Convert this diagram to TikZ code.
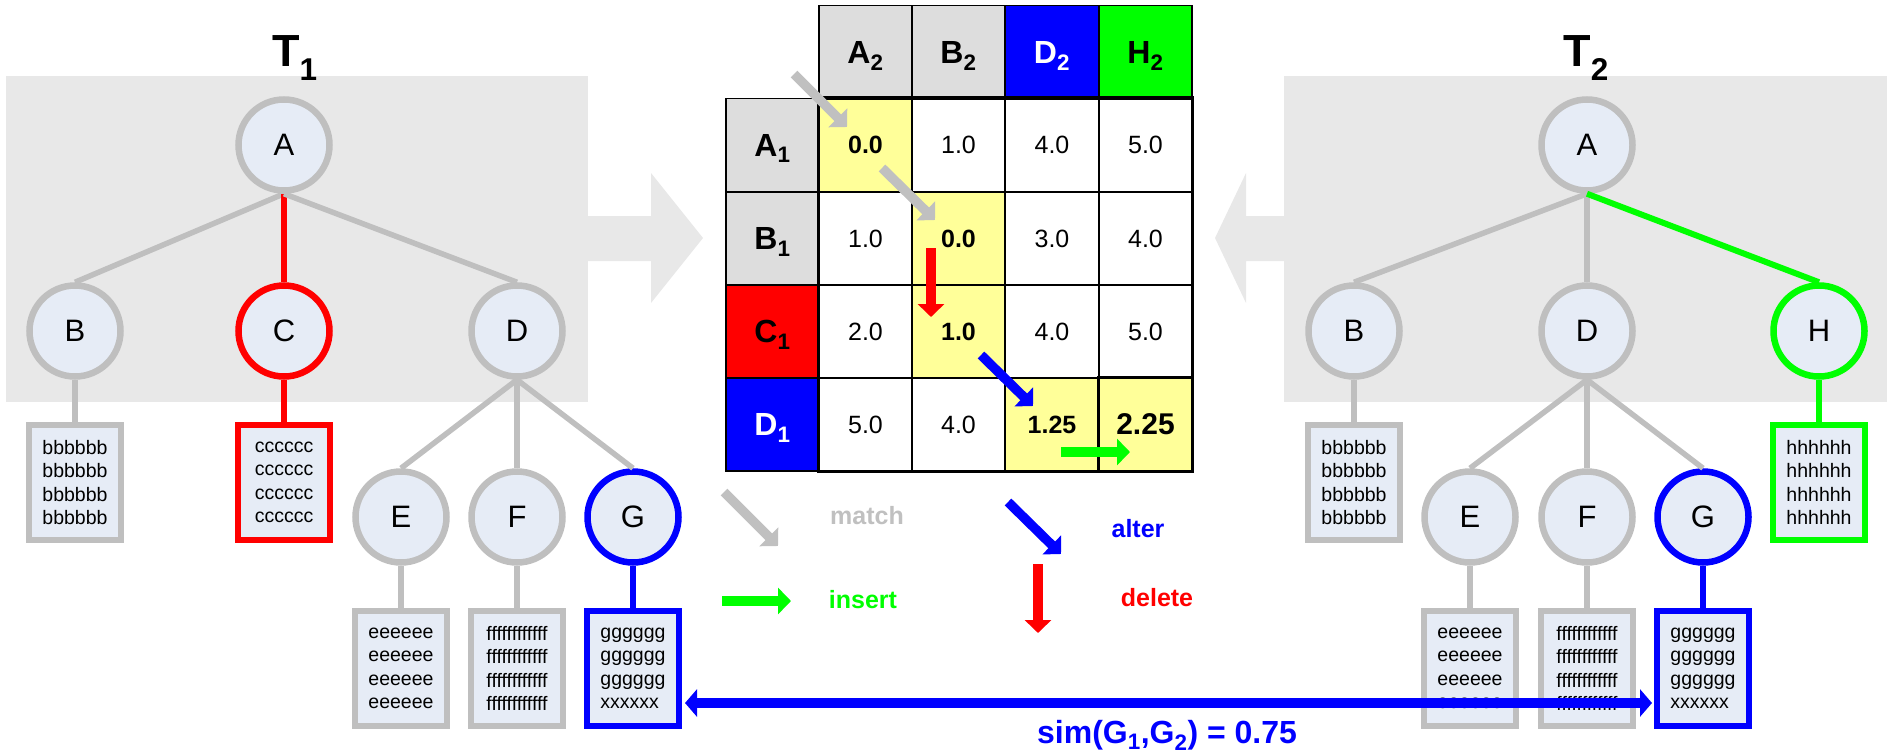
\documentclass[tikz,border=0pt]{standalone}
\usepackage{fontspec}
\setmainfont{Liberation Sans}
\usetikzlibrary{arrows.meta}
\definecolor{bggray}{HTML}{E8E8E8}
\definecolor{nodefill}{HTML}{E6ECF6}
\definecolor{edgegray}{HTML}{BFBFBF}
\definecolor{hdrgray}{HTML}{DDDDDD}
\definecolor{cellyellow}{HTML}{FFFF99}
\definecolor{pblue}{HTML}{0000FF}
\definecolor{pred}{HTML}{FF0000}
\definecolor{pgreen}{HTML}{00FF00}
\definecolor{arrgray}{HTML}{C0C0C0}
\newcommand{\fsz}[2]{\fontsize{#1bp}{#2bp}\selectfont}
\tikzset{
  tnode/.style={circle, draw=edgegray, fill=nodefill, line width=6.5bp, minimum size=91bp, inner sep=0pt, font=\fsz{31}{37}},
  leaf/.style={rectangle, draw=edgegray, fill=nodefill, line width=6bp, minimum width=92bp, minimum height=115bp, inner sep=0pt, align=left, font=\fsz{19.5}{23.5}},
  tedge/.style={draw=edgegray, line width=5.5bp},
  cedge/.style={line width=6bp},
  cell/.style={rectangle, draw=black, line width=1.2bp, minimum width=93bp, minimum height=93bp, inner sep=0pt, fill=white, font=\fsz{25}{30}},
  ycell/.style={cell, fill=cellyellow, font=\bfseries\fsz{25}{30}},
  hdr/.style={cell, fill=hdrgray, font=\bfseries\fsz{32}{38}, text depth=0pt},
  blk/.style={line width=9.5bp, -{Triangle[width=26bp,length=13bp]}},
  leg/.style={font=\bfseries\fsz{25}{30}},
  title/.style={font=\bfseries\fsz{45}{54}, anchor=base},
}
\begin{document}
\begin{tikzpicture}[x=1bp, y=-1bp]
\useasboundingbox (0,0) rectangle (1887,755);

% background panels and big arrows
\fill[bggray] (6,76) rectangle (588,402);
\fill[bggray] (1284,76) rectangle (1887,402);
\fill[bggray] (588,216) -- (651,216) -- (651,173) -- (703,238) -- (651,303) -- (651,261) -- (588,261) -- cycle;
\fill[bggray] (1284,216) -- (1246,216) -- (1246,173) -- (1215,238) -- (1246,303) -- (1246,261) -- (1284,261) -- cycle;

% titles
\node[title] (t1) at (295,67) {T\textsubscript{1}};
\node[title] (t2) at (1586,67) {T\textsubscript{2}};

% ---------- Tree T1 ----------
\node[tnode] (a1) at (284,145) {A};
\node[tnode] (b1) at (75,331) {B};
\node[tnode, draw=pred] (c1) at (284,331) {C};
\node[tnode] (d1) at (517,331) {D};
\node[tnode] (e1) at (401,517) {E};
\node[tnode] (f1) at (517,517) {F};
\node[tnode, draw=pblue] (g1) at (633,517) {G};
\node[leaf] (lb1) at (75,482.5) {bbbbbb\\bbbbbb\\bbbbbb\\bbbbbb};
\node[leaf, draw=pred] (lc1) at (284,482.5) {cccccc\\cccccc\\cccccc\\cccccc};
\node[leaf] (le1) at (401,668.5) {eeeeee\\eeeeee\\eeeeee\\eeeeee};
\node[leaf] (lf1) at (517,668.5) {ffffffffffff\\ffffffffffff\\ffffffffffff\\ffffffffffff};
\node[leaf, draw=pblue] (lg1) at (633,668.5) {gggggg\\gggggg\\gggggg\\xxxxxx};

\draw[tedge] (a1.south) -- (b1.north);
\draw[cedge, pred] (a1.south) -- (c1.north);
\draw[tedge] (a1.south) -- (d1.north);
\draw[tedge] (b1.south) -- (lb1.north);
\draw[cedge, pred] (c1.south) -- (lc1.north);
\draw[tedge] (d1.south) -- (e1.north);
\draw[tedge] (d1.south) -- (f1.north);
\draw[tedge] (d1.south) -- (g1.north);
\draw[tedge] (e1.south) -- (le1.north);
\draw[tedge] (f1.south) -- (lf1.north);
\draw[cedge, pblue] (g1.south) -- (lg1.north);

% ---------- Tree T2 ----------
\node[tnode] (a2) at (1587,145) {A};
\node[tnode] (b2) at (1354,331) {B};
\node[tnode] (d2) at (1587,331) {D};
\node[tnode, draw=pgreen] (h2) at (1819,331) {H};
\node[tnode] (e2) at (1470,517) {E};
\node[tnode] (f2) at (1587,517) {F};
\node[tnode, draw=pblue] (g2) at (1703,517) {G};
\node[leaf] (lb2) at (1354,482.5) {bbbbbb\\bbbbbb\\bbbbbb\\bbbbbb};
\node[leaf, draw=pgreen] (lh2) at (1819,482.5) {hhhhhh\\hhhhhh\\hhhhhh\\hhhhhh};
\node[leaf] (le2) at (1470,668.5) {eeeeee\\eeeeee\\eeeeee\\eeeeee};
\node[leaf] (lf2) at (1587,668.5) {ffffffffffff\\ffffffffffff\\ffffffffffff\\ffffffffffff};
\node[leaf, draw=pblue] (lg2) at (1703,668.5) {gggggg\\gggggg\\gggggg\\xxxxxx};

\draw[tedge] (a2.south) -- (b2.north);
\draw[tedge] (a2.south) -- (d2.north);
\draw[cedge, pgreen] (a2.south) -- (h2.north);
\draw[tedge] (b2.south) -- (lb2.north);
\draw[cedge, pgreen] (h2.south) -- (lh2.north);
\draw[tedge] (d2.south) -- (e2.north);
\draw[tedge] (d2.south) -- (f2.north);
\draw[tedge] (d2.south) -- (g2.north);
\draw[tedge] (e2.south) -- (le2.north);
\draw[tedge] (f2.south) -- (lf2.north);
\draw[cedge, pblue] (g2.south) -- (lg2.north);

% ---------- Matrix ----------
\node[hdr] (hA) at (865.5,52) {A\textsubscript{2}};
\node[hdr] (hB) at (958.5,52) {B\textsubscript{2}};
\node[hdr, fill=pblue, text=white] (hD) at (1052,52) {D\textsubscript{2}};
\node[hdr, fill=pgreen] (hH) at (1145.5,52) {H\textsubscript{2}};
\node[hdr] (rA) at (772.5,145) {A\textsubscript{1}};
\node[hdr] (rB) at (772.5,238.5) {B\textsubscript{1}};
\node[hdr, fill=pred] (rC) at (772.5,331.5) {C\textsubscript{1}};
\node[hdr, fill=pblue, text=white] (rD) at (772.5,424.5) {D\textsubscript{1}};

\node[ycell] (c11) at (865.5,145) {0.0};
\node[cell] (c12) at (958.5,145) {1.0};
\node[cell] (c13) at (1052,145) {4.0};
\node[cell] (c14) at (1145.5,145) {5.0};
\node[cell] (c21) at (865.5,238.5) {1.0};
\node[ycell] (c22) at (958.5,238.5) {0.0};
\node[cell] (c23) at (1052,238.5) {3.0};
\node[cell] (c24) at (1145.5,238.5) {4.0};
\node[cell] (c31) at (865.5,331.5) {2.0};
\node[ycell] (c32) at (958.5,331.5) {1.0};
\node[cell] (c33) at (1052,331.5) {4.0};
\node[cell] (c34) at (1145.5,331.5) {5.0};
\node[cell] (c41) at (865.5,424.5) {5.0};
\node[cell] (c42) at (958.5,424.5) {4.0};
\node[ycell] (c43) at (1052,424.5) {1.25};
\node[ycell, font=\bfseries\fsz{30}{36}] (c44) at (1145.5,424.5) {2.25};

\draw[line width=3.5bp] (c11.north west) rectangle (c44.south east);
\draw[line width=3.5bp] (c44.north west) rectangle (c44.south east);

% path arrows in the matrix
\coordinate (m1s) at (794,74);   \coordinate (m1e) at (847,127);
\coordinate (m2s) at (882,168);  \coordinate (m2e) at (935,220);
\coordinate (m3s) at (931,248);  \coordinate (m3e) at (931,317);
\coordinate (m4s) at (981,355);  \coordinate (m4e) at (1033,406);
\coordinate (m5s) at (1061,452); \coordinate (m5e) at (1130,452);
\draw[blk, arrgray] (m1s) -- (m1e);
\draw[blk, arrgray] (m2s) -- (m2e);
\draw[blk, pred] (m3s) -- (m3e);
\draw[blk, pblue] (m4s) -- (m4e);
\draw[blk, pgreen] (m5s) -- (m5e);

% ---------- Legend ----------
\coordinate (l1s) at (724,492);  \coordinate (l1e) at (778,546);
\coordinate (l2s) at (722,601);  \coordinate (l2e) at (791,601);
\coordinate (l3s) at (1008,502); \coordinate (l3e) at (1061,554);
\coordinate (l4s) at (1038,564); \coordinate (l4e) at (1038,633);
\draw[blk, arrgray] (l1s) -- (l1e);
\draw[blk, pgreen] (l2s) -- (l2e);
\draw[blk, pblue] (l3s) -- (l3e);
\draw[blk, pred] (l4s) -- (l4e);
\node[leg, text=arrgray] (tmatch) at (867,516) {match};
\node[leg, text=pgreen] (tinsert) at (863,600) {insert};
\node[leg, text=pblue] (talter) at (1138,529) {alter};
\node[leg, text=pred] (tdelete) at (1157,598) {delete};

% ---------- similarity arrow ----------
\draw[pblue, line width=10bp, {Triangle[width=27bp,length=12bp]}-{Triangle[width=27bp,length=12bp]}]
  ([xshift=3bp,yshift=-34.5bp]lg1.east) -- ([xshift=-2bp,yshift=-34.5bp]lg2.west);
\node[font=\bfseries\fsz{32}{38}, text=pblue] (sim) at (1167,735) {sim(G\textsubscript{1},G\textsubscript{2}) = 0.75};
\end{tikzpicture}
\end{document}
